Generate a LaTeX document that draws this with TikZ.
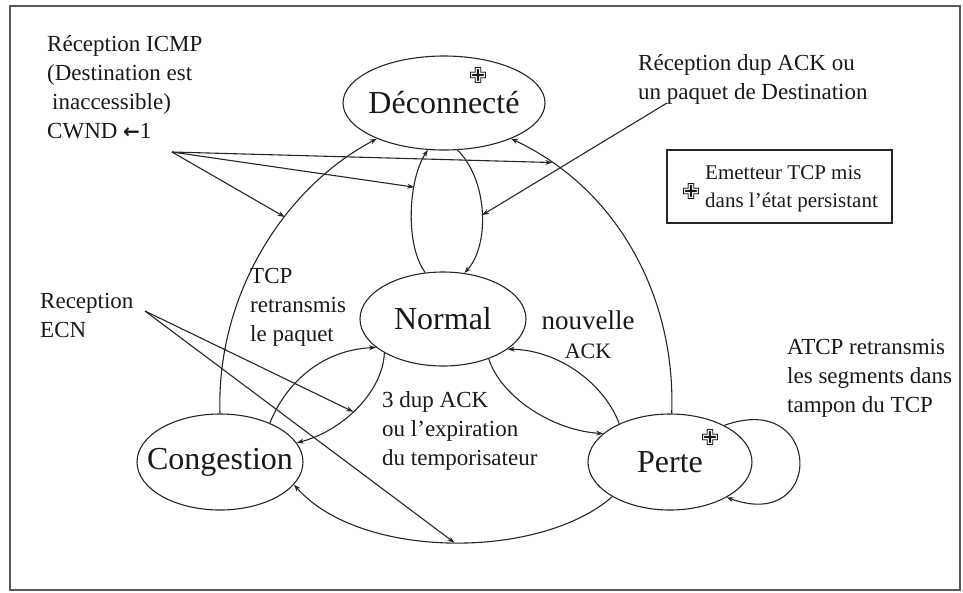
\documentclass[tikz,border=0pt]{standalone}
\usepackage{fontspec}
\setmainfont{Liberation Serif}
\newfontfamily\symfont{DejaVu Sans}
\usetikzlibrary{shapes.geometric,arrows.meta}

\begin{document}
\begin{tikzpicture}[x=1pt,y=-1pt,
  line/.style={draw=black!85, line width=1.1pt},
  arr/.style={line, -{Stealth[length=7pt,width=5pt]}},
  state/.style={ellipse, draw=black!85, line width=1.1pt, inner ysep=0pt,
    inner xsep=-20pt, text=black!90, font=\fontsize{32}{36}\selectfont},
  lbl/.style={inner sep=0pt, align=left, anchor=north west, text=black!90,
    font=\fontsize{23}{29}\selectfont},
  crossmark/.style={inner sep=0pt, text=black!90, font=\symfont\bfseries\fontsize{22}{22}\selectfont},
  legendbox/.style={draw=black!85, line width=1.2pt, rectangle, inner sep=0pt}
]
\useasboundingbox (0,0) rectangle (963,592);

% outer frame
\draw[line width=1.6pt, black!65] (10,6) rectangle (960,590);

% states
\node[state, minimum width=202pt, minimum height=94pt] (dec) at (444,103) {Déconnecté};
\node[state, minimum width=166pt, minimum height=94pt] (nor) at (443,319) {Normal};
\node[state, minimum width=166pt, minimum height=96pt] (con) at (220,462) {Congestion};
\node[state, minimum width=164pt, minimum height=96pt] (per) at (670,462) {Perte};

\node[crossmark] (xdec) at (478,75) {✙};
\node[crossmark] (xper) at (710,437) {✙};

% transitions
\draw[arr] (con.90) .. controls (216,300) and (280,190) .. coordinate[pos=0.63] (cd) (dec.208);
\draw[arr] (per.88) .. controls (676,300) and (620,190) .. coordinate[pos=0.865] (pd) (dec.-28);
\draw[arr] (nor.111) .. controls (405,245) and (408,180) .. coordinate[pos=0.68] (ld) (dec.251);
\draw[arr] (dec.286) .. controls (488,180) and (490,245) .. coordinate[pos=0.52] (rd) (nor.65);
\draw[arr] (con.38) .. controls (285,385) and (320,350) .. (nor.203);
\draw[arr] (nor.210) .. controls (383,390) and (345,430) .. coordinate[pos=0.55] (nc) (con.14);
\draw[arr] (nor.-41) .. controls (500,395) and (550,430) .. (per.157);
\draw[arr] (per.143) .. controls (605,385) and (560,350) .. (nor.-25);
\draw[arr] (per.211) .. controls (540,560) and (360,560) .. coordinate[pos=0.49] (pc) (con.-17);
\draw[arr] (per.34) to[out=20, in=-20, out distance=105pt, in distance=105pt] (per.-32);

% event labels
\node[lbl] (icmp) at (47,35) {Réception ICMP\\(Destination est\\\hspace*{5pt}inaccessible)\\CWND {\symfont\bfseries\fontsize{20}{20}\selectfont ←}1};
\coordinate (cw) at (172,152);
\draw[arr] (cw) -- (cd);
\draw[arr] (cw) -- (ld);
\draw[arr] (cw) -- (pd);

\node[lbl] (dup) at (638,54) {Réception dup ACK ou\\un paquet de Destination};
\coordinate (dupsrc) at (667,103);
\draw[arr] (dupsrc) -- (rd);

\node[lbl] (ecn) at (40,293) {Reception\\ECN};
\coordinate (ecnsrc) at (145,311);
\draw[arr] (ecnsrc) -- (nc);
\draw[arr] (ecnsrc) -- (pc);

\node[lbl] (retx) at (250,268) {TCP\\retransmis\\le paquet};
\node[lbl, anchor=north, align=center] (nack) at (588,311)
  {{\fontsize{27}{27}\selectfont nouvelle}\\{\fontsize{22}{22}\selectfont ACK}};
\node[lbl] (dupack) at (382,391) {3 dup ACK\\ou l’expiration\\du temporisateur};

\begin{scope}
  \clip (10,6) rectangle (960,590);
  \node[lbl] (atcp) at (787,339) {ATCP retransmis\\les segments dans\\tampon du TCP};
\end{scope}

% legend
\node[legendbox, minimum width=225pt, minimum height=73pt] (leg) at (779.5,186.5) {};
\node[crossmark] (xleg) at (691,191) {✙};
\node[lbl, anchor=west, font=\fontsize{21}{28}\selectfont] (legtxt) at (705,189)
  {Emetteur TCP mis\\dans l’état persistant};
\end{tikzpicture}
\end{document}
